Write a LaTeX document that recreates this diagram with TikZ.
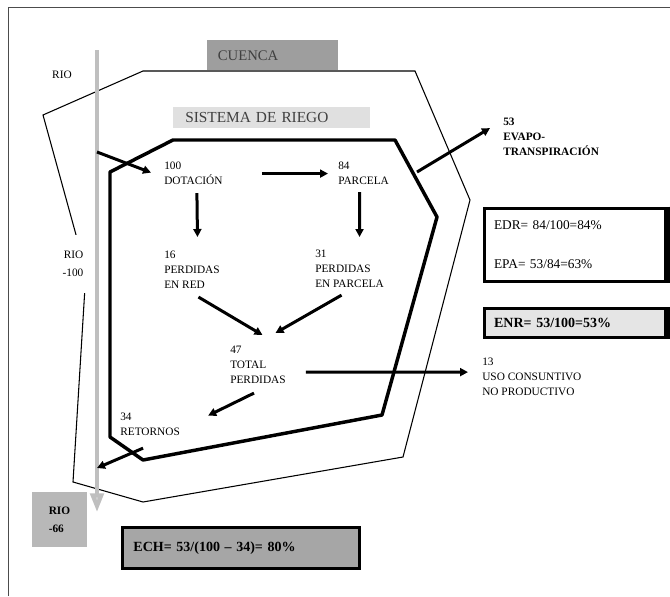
\documentclass[tikz,border=0pt]{standalone}
\usepackage{fontspec}
\setmainfont{Liberation Serif}
\usetikzlibrary{arrows.meta}

\begin{document}
\begin{tikzpicture}[
    x=0.75pt, y=-0.75pt,
    lbl/.style={align=left, inner sep=0pt, anchor=north west,
                font=\fontsize{8.5}{11.25}\selectfont},
    flow/.style={-{Triangle[length=6pt,width=6pt]}, line width=2.25pt},
    tag/.style={anchor=north west, inner ysep=0pt, align=left,
                font=\fontsize{11}{13}\selectfont, text=black!75},
    effbox/.style={draw, line width=2.25pt, anchor=north west, align=left,
                   inner xsep=7.5pt, inner ysep=0pt},
]
\useasboundingbox (0,0) rectangle (670,596);
\draw[black!70, line width=0.6pt] (8,596) -- (8,7) -- (670,7);

% cuenca and sistema de riego outlines
\draw[line width=0.8pt] (43,115) -- (143,71) -- (415,71) -- (470,200) -- (403,457)
    -- (143,502) -- (73,482) -- (86,271) -- cycle;
\draw[line width=2.6pt, line join=round] (173,140) -- (110,172) -- (110,437) -- (143,460)
    -- (382,415) -- (437,217) -- (395,140) -- cycle;

% river
\coordinate (rioTop) at (97,50);
\coordinate (rioIn) at (97,152);
\coordinate (rioOut) at (97,468);
\coordinate (rioEnd) at (97,512);
\coordinate (etSrc) at (417,172);
\draw[black!25, line width=3pt, -{Triangle[length=14pt,width=10pt,fill=black!18]}] (rioTop) -- (rioEnd);

\node[tag, fill=black!38, minimum height=22.5pt, inner xsep=8pt, text width=82.25pt] (cuenca) at (207,40) {CUENCA};
\node[tag, fill=black!12, minimum height=15.75pt, inner xsep=9pt, text width=129.75pt,
      font=\fontsize{11.5}{13}\selectfont] (sistema) at (173,107) {SISTEMA DE RIEGO};

\node[font=\fontsize{8.5}{11}\selectfont, inner sep=0pt] (rioA) at (62,75) {RIO};
\node[fill=white, align=right, minimum width=25.5pt, minimum height=43.5pt, inner sep=0pt,
      font=\fontsize{8.5}{13.5}\selectfont] (rioB) at (73,264) {RIO\\-100};
\node[fill=black!28, minimum width=41.25pt, minimum height=41.25pt, align=left,
      font=\bfseries\fontsize{8.5}{13.5}\selectfont] (rioC) at (59.5,519.5) {RIO\\-66};

% balance
\node[lbl] (dot) at (164,162) {100\\DOTACIÓN};
\node[lbl] (parc) at (338,162) {84\\PARCELA};
\node[lbl, font=\bfseries\fontsize{8.5}{11.25}\selectfont] (evapo) at (503,118) {53\\EVAPO-\\TRANSPIRACIÓN};
\node[lbl] (red) at (164,251) {16\\PERDIDAS\\EN RED};
\node[lbl] (enparc) at (315,250) {31\\PERDIDAS\\EN PARCELA};
\node[lbl] (total) at (230,346) {47\\TOTAL\\PERDIDAS};
\node[lbl] (uso) at (482,358) {13\\USO CONSUNTIVO\\NO PRODUCTIVO};
\node[lbl] (ret) at (120,413) {34\\RETORNOS};

% efficiencies
\node[effbox, minimum width=136.1pt, minimum height=55.1pt, text width=121pt,
      font=\fontsize{10}{12}\selectfont] (edr) at (482.5,206.5) {EDR= 84/100=84\%\\[17pt]EPA= 53/84=63\%};
\draw[line width=4.5pt] (edr.north east) -- (edr.south east);
\node[effbox, fill=black!10, minimum width=136.1pt, minimum height=22.1pt, text width=121pt,
      font=\bfseries\fontsize{10.5}{12}\selectfont] (enr) at (482.5,307) {ENR= 53/100=53\%};
\draw[line width=4.5pt] (enr.north east) -- (enr.south east);
\node[effbox, fill=black!35, minimum width=178.1pt, minimum height=31.1pt, inner xsep=8.6pt, text width=160.9pt,
      font=\bfseries\fontsize{10.5}{12}\selectfont] (ech) at (120.5,525.5) {ECH= 53/(100 -- 34)= 80\%};

% flows
\draw[flow] (rioIn) -- ([shift={(-13,-1)}]dot.west);
\draw[flow] ([shift={(39,0)}]dot.east) -- ([shift={(-10,0)}]parc.west);
\draw[flow] ([shift={(3.5,8)}]dot.south) -- ([shift={(5.5,-14)}]red.north);
\draw[flow] ([shift={(-4,7)}]parc.south) -- ([shift={(10,-13)}]enparc.north);
\draw[flow] (etSrc) -- ([shift={(-13,-9)}]evapo.west);
\draw[flow] ([shift={(6.5,8)}]red.south) -- ([shift={(4.5,-11)}]total.north);
\draw[flow] ([shift={(-8,7)}]enparc.south) -- ([shift={(17.5,-13)}]total.north);
\draw[flow] ([shift={(20,7)}]total.east) -- ([shift={(-14,-5)}]uso.west);
\draw[flow] ([shift={(-4,9)}]total.south) -- ([shift={(28,-9)}]ret.east);
\draw[flow] ([shift={(-7,12)}]ret.south) -- (rioOut);
\end{tikzpicture}
\end{document}
